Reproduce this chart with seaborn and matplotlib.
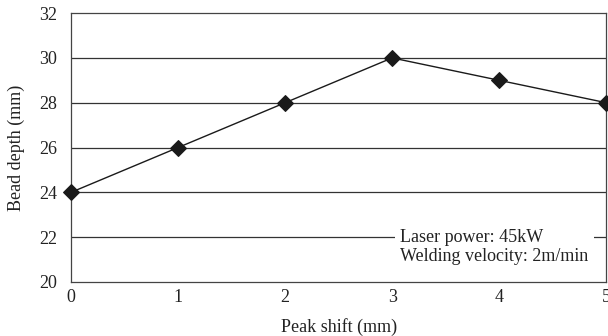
import matplotlib
matplotlib.use("Agg")
import matplotlib.pyplot as plt
import seaborn as sns
import pandas as pd

# data
peak_shift = [0, 1, 2, 3, 4, 5]
bead_depth = [24, 26, 28, 30, 29, 28]
y_ticks = [20, 22, 24, 26, 28, 30, 32]

df = pd.DataFrame({"Peak shift": peak_shift, "Bead depth": bead_depth})

sns.set_style("white")
plt.rcParams['font.family'] = ['Liberation Serif', 'DejaVu Serif']

fig = plt.figure(figsize=(6.08, 3.36), dpi=100)
ax = fig.add_axes([0.117, 0.161, 0.88, 0.80])

for y in y_ticks[1:-1]:
    ax.axhline(y, color='#333333', lw=0.9, zorder=1)

sns.lineplot(data=df, x="Peak shift", y="Bead depth", ax=ax, color='#1a1a1a',
             lw=1.0, marker='D', markersize=8, markeredgecolor='#1a1a1a',
             markerfacecolor='#1a1a1a', zorder=3, clip_on=False)

ax.set_xlim(0, 5)
ax.set_ylim(20, 32)
ax.set_xticks(peak_shift)
ax.set_yticks(y_ticks)
ax.tick_params(axis='x', direction='in', length=3, width=0.8, colors='#333333',
               labelsize=13, pad=5, labelcolor='#222222')
ax.tick_params(axis='y', length=0, labelsize=13, pad=10, labelcolor='#222222')
for s in ax.spines.values():
    s.set_color('#444444')
    s.set_linewidth(0.9)

ax.set_xlabel("Peak shift (mm)", fontsize=13, labelpad=9, color='#222222')
ax.set_ylabel("Bead depth (mm)", fontsize=13, labelpad=10, color='#222222')

ax.text(0.615, 0.195, "Laser power: 45kW\nWelding velocity: 2m/min",
        transform=ax.transAxes, fontsize=13, va='top', ha='left',
        color='#222222', linespacing=1.15, zorder=4,
        bbox=dict(facecolor='white', edgecolor='none', pad=4))

fig.savefig("out.png", dpi=100)
